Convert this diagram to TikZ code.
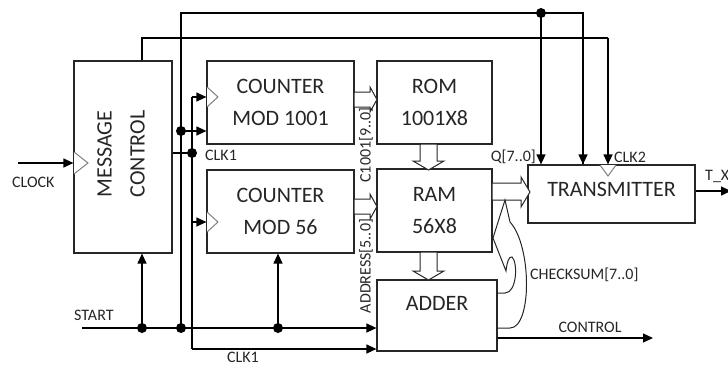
\documentclass[tikz,border=0pt]{standalone}
\usepackage{fontspec}
\setmainfont{Carlito}
\usetikzlibrary{arrows.meta}
\definecolor{ink}{HTML}{262626}
\begin{document}
\begin{tikzpicture}[x=1pt,y=-1pt,
  box/.style={draw=ink,line width=1.2pt,inner sep=0pt,text=ink,align=center,font=\fontsize{22}{32}\selectfont},
  lbl/.style={text=ink,inner sep=0pt,font=\fontsize{16}{19}\selectfont},
  wire/.style={draw=black,line width=1.2pt},
  arr/.style={wire,-{Triangle[length=10pt,width=9pt]}},
  dot/.style={circle,fill=black,inner sep=0pt,minimum size=10pt},
  clk/.style={draw=gray,line width=1pt,fill=white},
  bus/.style={draw=ink,line width=1pt,fill=white,line join=miter}]
\useasboundingbox (0,0) rectangle (728,367);
% boxes
\node[box,minimum width=98pt,minimum height=192pt] (mc) at (123,157) {};
\node[text=ink,rotate=90,align=center,font=\fontsize{22}{33}\selectfont] (mct) at (121,154) {MESSAGE\\CONTROL};
\node[box,minimum width=147pt,minimum height=83pt] (c1) at (280.5,102.5) {COUNTER\\MOD 1001};
\node[box,minimum width=147pt,minimum height=83pt] (c2) at (280.5,211.5) {COUNTER\\MOD 56};
\node[box,minimum width=115pt,minimum height=83pt] (rom) at (434.5,102.5) {ROM\\1001X8};
\node[box,minimum width=115pt,minimum height=83pt] (ram) at (434.5,210.5) {RAM\\56X8};
\node[box,minimum width=120pt,minimum height=71pt] (add) at (437,315.5) {};
\node[text=ink,font=\fontsize{22}{26}\selectfont] (addt) at (437,303) {ADDER};
\node[box,minimum width=167pt,minimum height=58pt] (tx) at (611.5,194) {};
\node[text=ink,font=\fontsize{22}{26}\selectfont] (txt) at (611.5,189) {TRANSMITTER};
% clock triangles
\draw[clk] (74,152) -- (88,163) -- (74,174);
\draw[clk] (207,87) -- (218,97) -- (207,107);
\draw[clk] (207,212) -- (218,222) -- (207,232);
\draw[clk] (600,165) -- (608,176) -- (616,165);
% junction coordinates
\coordinate (clkin) at (18,163);
\coordinate (st0) at (82,328);
\coordinate (j1) at (142,328);
\coordinate (j2) at (181,328);
\coordinate (j3) at (278,328);
\coordinate (j4) at (181,131);
\coordinate (j5) at (192,153);
\coordinate (t1) at (181,13);
\coordinate (t2) at (541,13);
\coordinate (t3) at (583,13);
\coordinate (m1) at (142,38);
\coordinate (m2) at (608,38);
\coordinate (k0) at (192,97);
\coordinate (k1) at (192,222);
\coordinate (k2) at (192,349);
\coordinate (txo) at (731,191);
\coordinate (co) at (653,338);
% wires
\draw[arr] (clkin) -- (mc.west |- clkin);
\draw[arr] (st0) -- (add.west |- st0);
\draw[arr] (j1) -- (mc.south -| j1);
\draw[arr] (j3) -- (c2.south -| j3);
\draw[wire] (j2) -- (t1) -- (t3) -- (t3 |- tx.north);
\draw[arr] (t3) -- (t3 |- tx.north);
\draw[arr] (t2) -- (t2 |- tx.north);
\draw[wire] (mc.north -| m1) -- (m1) -- (m2);
\draw[arr] (m2) -- (m2 |- tx.north);
\draw[arr] (j4) -- (c1.west |- j4);
\draw[wire] (mc.east |- j5) -- (j5);
\draw[wire] (k0) -- (k2);
\draw[arr] (k0) -- (c1.west |- k0);
\draw[arr] (k1) -- (c2.west |- k1);
\draw[arr] (k2) -- (add.west |- k2);
\draw[arr] (tx.east |- txo) -- (txo);
\draw[arr] (add.east |- co) -- (co);
% dots
\foreach \p in {j1,j2,j3,j4,j5,t2} \node[dot] at (\p) {};
% bus arrows
\draw[bus] (354,92) -- (370,92) -- (370,87) -- (377,99.5) -- (370,112) -- (370,107) -- (354,107) -- cycle;
\draw[bus] (354,199) -- (370,199) -- (370,194) -- (377,206.5) -- (370,219) -- (370,214) -- (354,214) -- cycle;
\draw[bus] (420,144) -- (420,161) -- (413,161) -- (428.5,170) -- (444,161) -- (437,161) -- (437,144) -- cycle;
\draw[bus] (420,252) -- (420,271) -- (413,271) -- (428.5,280) -- (444,271) -- (437,271) -- (437,252) -- cycle;
\draw[bus] (492,183) -- (521,183) -- (521,177) -- (530,192) -- (521,207) -- (521,200) -- (492,200) -- cycle;
% checksum feedback
\draw[bus,fill=none] (497,328) -- (510,328) .. controls (532,328) and (532,246) .. (510,222) -- (505,200) -- (493,238) -- (506,271) .. controls (507,262) and (509,256) .. (512,257) .. controls (518,262) and (517,293) .. (505,293) -- (497,293);
% labels
\node[lbl,anchor=west] (lclock) at (12,182) {CLOCK};
\node[lbl,anchor=west] (lstart) at (74,315) {START};
\node[lbl,anchor=west] (lclk1a) at (205,155) {CLK1};
\node[lbl] (lclk1b) at (243,357) {CLK1};
\node[lbl,rotate=90] (lc1001) at (366,145) {C1001[9..0]};
\node[lbl,rotate=90] (laddr) at (366,266) {ADDRESS[5..0]};
\node[lbl,anchor=east] (lq) at (536,157) {Q[7..0]};
\node[lbl,anchor=west] (lclk2) at (614,157) {CLK2};
\node[lbl,anchor=west] (ltx) at (705,176) {T\_X};
\node[lbl,anchor=west] (lchk) at (530,275) {CHECKSUM[7..0]};
\node[lbl] (lctl) at (590,327) {CONTROL};
\end{tikzpicture}
\end{document}
